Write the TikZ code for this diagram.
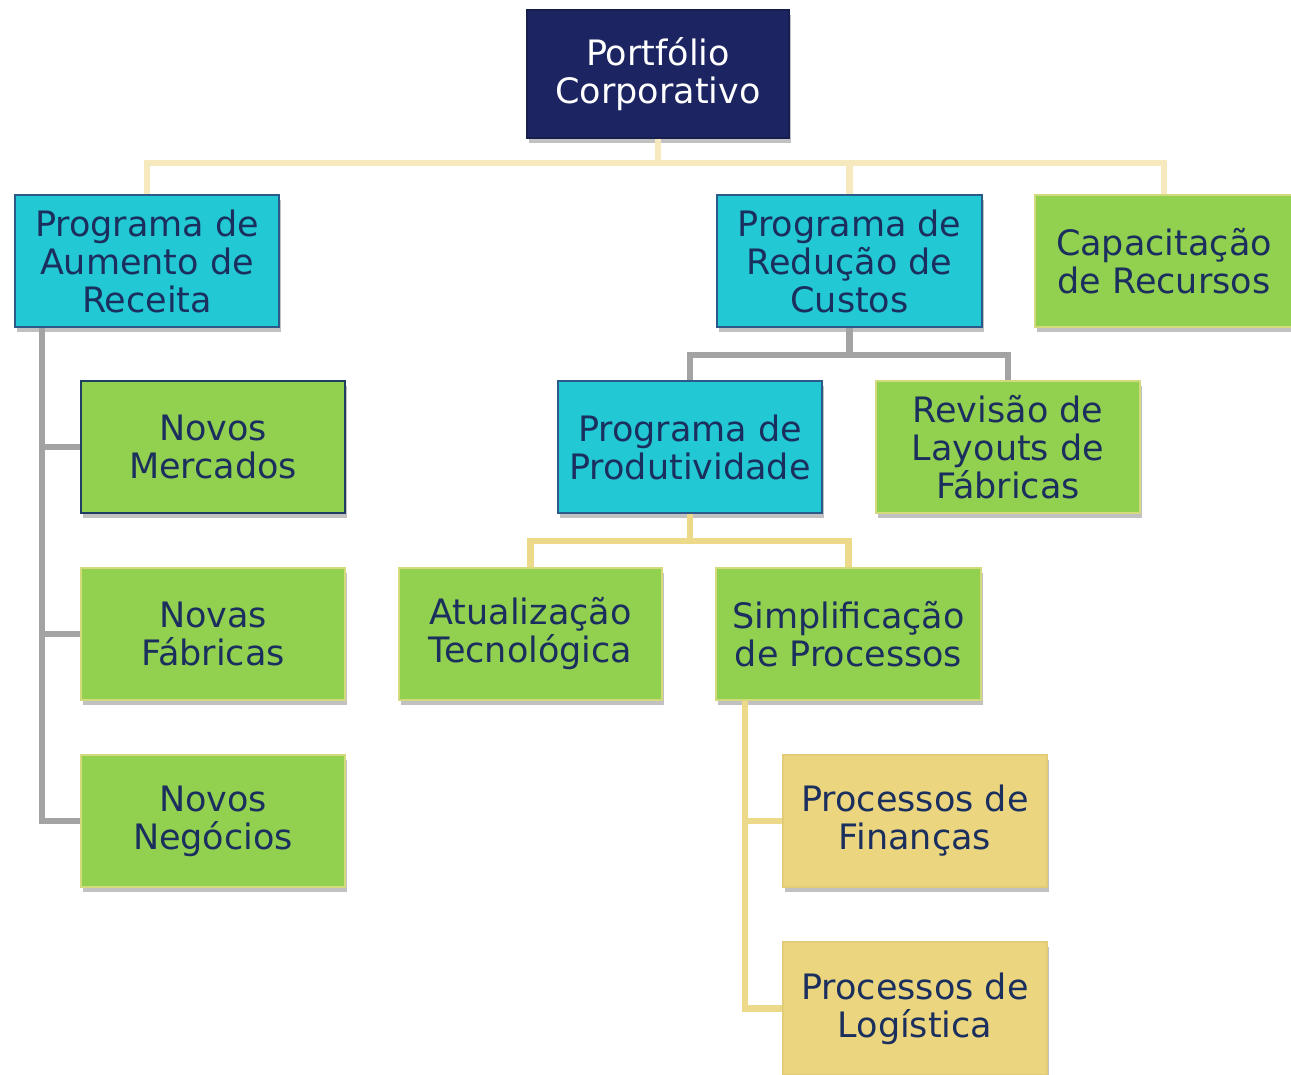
\documentclass[tikz,border=0pt]{standalone}
\usepackage{fontspec}
\setmainfont{DejaVu Sans}
\usetikzlibrary{shadows}
\definecolor{navy}{HTML}{1C2562}
\definecolor{txt}{HTML}{1B2F5E}
\definecolor{cyanf}{HTML}{22C8D4}
\definecolor{cyanb}{HTML}{2B5A8A}
\definecolor{greenf}{HTML}{92D050}
\definecolor{greenb}{HTML}{D2DA7C}
\definecolor{tanf}{HTML}{EBD57E}
\definecolor{tanb}{HTML}{E2CC78}
\definecolor{grayc}{HTML}{A3A3A3}
\definecolor{palec}{HTML}{F5E9BD}
\definecolor{yelc}{HTML}{EDD98A}
\tikzset{
  box/.style={rectangle, minimum width=264pt, minimum height=132pt, align=center,
    inner sep=0pt, line width=1.2pt, text=txt,
    font=\fontsize{35}{38}\selectfont,
    drop shadow={shadow xshift=2pt, shadow yshift=-5pt, opacity=0.35, fill=black!70}},
  rootbox/.style={box, fill=navy, draw=navy!80!black, text=white, minimum width=262pt, minimum height=128pt},
  cyanbox/.style={box, fill=cyanf, draw=cyanb},
  greenbox/.style={box, fill=greenf, draw=greenb},
  tanbox/.style={box, fill=tanf, draw=tanb},
  conn/.style={line width=6.5pt},
  paleconn/.style={conn, draw=palec},
  grayconn/.style={conn, draw=grayc},
  yelconn/.style={conn, draw=yelc},
}
\begin{document}
\begin{tikzpicture}[x=1pt,y=-1pt]
\useasboundingbox (0,0) rectangle (1291,1075);
\coordinate (busA) at (0,163);
\coordinate (busC) at (0,355);
\coordinate (busP) at (0,541);
\coordinate (lx) at (42,0);
\coordinate (sx) at (745,0);

\node[rootbox] (root) at (658,74) {Portfólio\\Corporativo};
\node[cyanbox] (A) at (147,261) {Programa de\\Aumento de\\Receita};
\node[cyanbox, minimum width=265pt] (C) at (849.5,261) {Programa de\\Redução de\\Custos};
\node[greenbox, minimum width=258pt] (Cap) at (1164,261) {Capacitação\\de Recursos};

\node[greenbox, draw=cyanb!70!black] (NM) at (213,447) {Novos\\Mercados};
\node[greenbox] (NF) at (213,634) {Novas\\Fábricas};
\node[greenbox] (NN) at (213,821) {Novos\\Negócios};

\node[cyanbox] (P) at (690,447) {Programa de\\Produtividade};
\node[greenbox] (R) at (1008,447) {Revisão de\\Layouts de\\Fábricas};

\node[greenbox, minimum width=263pt] (At) at (530.5,634) {Atualização\\Tecnológica};
\node[greenbox, minimum width=265pt] (S) at (848.5,634) {Simplificação\\de Processos};

\node[tanbox] (F) at (915,821) {Processos de\\Finanças};
\node[tanbox, minimum height=133pt] (L) at (915,1008.5) {Processos de\\Logística};

% top bus
\draw[paleconn] (root.south) -- (root.south |- busA);
\draw[paleconn] (A.north) -- (A.north |- busA) -- (Cap.north |- busA) -- (Cap.north);
\draw[paleconn] (C.north |- busA) -- (C.north);

% left gray tree
\draw[grayconn] (lx |- A.south) -- (lx |- NN.west) -- (NN.west);
\draw[grayconn] (lx |- NM.west) -- (NM.west);
\draw[grayconn] (lx |- NF.west) -- (NF.west);

% custos gray tree
\draw[grayconn] (C.south) -- (C.south |- busC);
\draw[grayconn] (P.north) -- (P.north |- busC) -- (R.north |- busC) -- (R.north);

% produtividade yellow tree
\draw[yelconn] (P.south) -- (P.south |- busP);
\draw[yelconn] (At.north) -- (At.north |- busP) -- (S.north |- busP) -- (S.north);

% simplificacao yellow tree
\draw[yelconn] (sx |- S.south) -- (sx |- L.west) -- (L.west);
\draw[yelconn] (sx |- F.west) -- (F.west);
\end{tikzpicture}
\end{document}
